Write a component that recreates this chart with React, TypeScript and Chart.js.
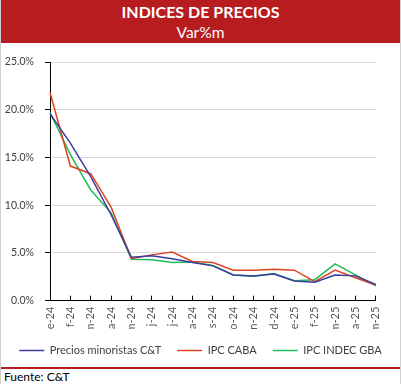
import React, { useEffect, useRef } from "react";
import { Chart, registerables } from "chart.js";

Chart.register(...registerables);

const categories = ["e-24", "f-24", "m-24", "a-24", "m-24", "j-24", "j-24", "a-24", "s-24", "o-24", "n-24", "d-24", "e-25", "f-25", "m-25", "a-25", "m-25"];
const minoristasCT = [19.6, 16.5, 13.0, 9.0, 4.55, 4.7, 4.4, 4.0, 3.65, 2.7, 2.6, 2.8, 2.07, 1.93, 2.7, 2.6, 1.7];
const ipcCaba = [21.8, 14.1, 13.3, 9.8, 4.4, 4.8, 5.1, 4.1, 4.0, 3.2, 3.2, 3.3, 3.2, 2.0, 3.2, 2.4, 1.65];
const ipcIndecGba = [19.7, 15.3, 11.6, 9.2, 4.35, 4.3, 4.0, 4.05, 3.7, 2.7, 2.55, 2.85, 2.1, 2.2, 3.85, 2.7, 1.55];
const seriesNames = ["Precios minoristas C&T", "IPC CABA", "IPC INDEC GBA"];
const yTicks = [0, 5, 10, 15, 20, 25];

const FONT = "Lato, 'Noto Sans', sans-serif";
const RED = "#B71C1F";

export default function App() {
  const ref = useRef<HTMLCanvasElement | null>(null);

  useEffect(() => {
    if (!ref.current) return;
    const chart = new Chart(ref.current, {
      type: "line",
      data: {
        labels: categories,
        datasets: [
          { label: seriesNames[0], data: minoristasCT, borderColor: "#3C3CA0", backgroundColor: "#3C3CA0", borderWidth: 1.5, pointRadius: 0, tension: 0 },
          { label: seriesNames[1], data: ipcCaba, borderColor: "#E0441C", backgroundColor: "#E0441C", borderWidth: 1.5, pointRadius: 0, tension: 0 },
          { label: seriesNames[2], data: ipcIndecGba, borderColor: "#20BC5C", backgroundColor: "#20BC5C", borderWidth: 1.5, pointRadius: 0, tension: 0 },
        ],
      },
      options: {
        animation: false,
        responsive: false,
        maintainAspectRatio: false,
        layout: { padding: { left: 0, right: 0, top: 19, bottom: 0 } },
        plugins: {
          tooltip: { enabled: false },
          legend: {
            position: "bottom",
            labels: {
              usePointStyle: true,
              pointStyle: "line",
              pointStyleWidth: 25,
              boxHeight: 11,
              padding: 16,
              color: "#404040",
              font: { family: FONT, size: 11 },
            },
          },
        },
        scales: {
          x: {
            type: "category",
            offset: false,
            afterFit: (s: any) => { s.height = 28.3; },
            grid: { drawOnChartArea: false, tickColor: "#000", tickLength: -5 },
            border: { color: "#000", width: 1 },
            ticks: {
              autoSkip: false,
              maxRotation: 90,
              minRotation: 90,
              padding: 11,
              color: "#595959",
              font: { family: FONT, size: 11 },
            },
          },
          y: {
            min: 0,
            max: 25,
            afterFit: (s: any) => { s.width = 49; },
            afterBuildTicks: (s: any) => { s.ticks = yTicks.map((v) => ({ value: v })); },
            grid: { color: "#D9D9D9", tickColor: "#000", tickLength: 5 },
            border: { color: "#000", width: 1 },
            ticks: {
              padding: 11,
              color: "#404040",
              font: { family: FONT, size: 10.5 },
              callback: (v: any) => Number(v).toFixed(1) + "%",
            },
          },
          yRight: {
            position: "right",
            min: 0,
            max: 25,
            afterFit: (s: any) => { s.width = 11; },
            grid: { display: false },
            border: { display: false },
            ticks: { display: false },
          },
        },
      },
    });
    return () => chart.destroy();
  }, []);

  return (
    <div style={{ position: "relative", width: 401, height: 384, boxSizing: "border-box", borderLeft: "1px solid #D0D0D0", borderRight: "1px solid #D0D0D0", fontFamily: FONT, background: "#fff", overflow: "hidden" }}>
      <style>{"body{margin:0}"}</style>
      <div style={{ position: "absolute", left: 0, top: 0, width: 399, height: 43, background: RED, color: "#fff", textAlign: "center" }}>
        <div style={{ position: "absolute", left: 0, right: 0, top: 2, fontWeight: 700, fontSize: 16, lineHeight: "20px" }}>INDICES DE PRECIOS</div>
        <div style={{ position: "absolute", left: 0, right: 0, top: 22, fontSize: 15.5, lineHeight: "20px" }}>Var%m</div>
      </div>
      <canvas ref={ref} width={399} height={323} style={{ position: "absolute", left: 0, top: 43, width: 399, height: 323 }} />
      <div style={{ position: "absolute", left: 0, top: 367, width: 399, height: 2, background: RED }} />
      <div style={{ position: "absolute", left: 3, top: 369, fontSize: 12, lineHeight: "15px", color: "#000" }}>Fuente: C&amp;T</div>
    </div>
  );
}
